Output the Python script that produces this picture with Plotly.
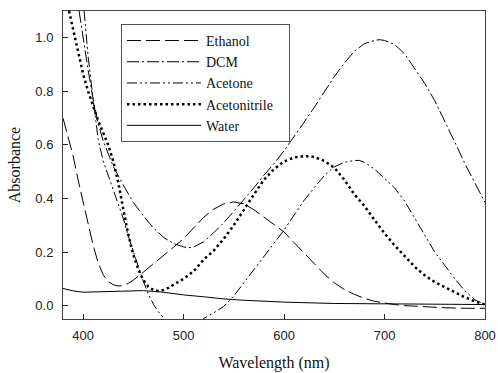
import plotly.graph_objects as go

# ---------------- data ----------------
ethanol_x = [380, 385, 390, 395, 400, 405, 410, 415, 420, 425, 430, 435, 440, 445, 450,
             460, 470, 480, 490, 500, 510, 520, 530, 540, 550, 560, 570, 580, 590, 600,
             610, 620, 630, 640, 650, 660, 670, 680, 690, 700, 710, 720, 740, 760, 780, 800]
ethanol_y = [0.70, 0.635, 0.56, 0.47, 0.385, 0.30, 0.225, 0.16, 0.115, 0.09, 0.078, 0.073, 0.075, 0.083, 0.095,
             0.125, 0.155, 0.187, 0.218, 0.25, 0.29, 0.33, 0.36, 0.38, 0.387, 0.38, 0.358, 0.33, 0.305, 0.275,
             0.235, 0.195, 0.155, 0.118, 0.085, 0.06, 0.042, 0.027, 0.016, 0.009, 0.004, 0.0, -0.005, -0.008, -0.01, -0.01]

dcm_x = [396, 400, 405, 410, 415, 420, 425, 430, 440, 450, 460, 470, 480, 490, 500, 505, 510,
         520, 530, 540, 550, 560, 570, 580, 590, 600, 610, 620, 630, 640, 650, 660, 670, 680,
         690, 695, 700, 710, 720, 730, 740, 750, 760, 770, 780, 790, 800]
dcm_y = [1.10, 1.00, 0.88, 0.77, 0.68, 0.615, 0.565, 0.52, 0.45, 0.385, 0.335, 0.29, 0.255, 0.232, 0.219, 0.216, 0.219,
         0.238, 0.272, 0.31, 0.352, 0.395, 0.44, 0.487, 0.53, 0.578, 0.63, 0.685, 0.74, 0.80, 0.855, 0.905, 0.95, 0.978,
         0.99, 0.993, 0.99, 0.975, 0.94, 0.885, 0.83, 0.765, 0.69, 0.61, 0.53, 0.455, 0.385]

acetone_x = [401, 405, 410, 415, 420, 425, 430, 435, 440, 445, 450, 455, 460, 465, 470, 475, 480, 485,
             None,
             516, 520, 530, 540, 550, 560, 570, 580, 590, 600, 610, 620, 630, 640, 650, 660, 670, 675,
             680, 690, 700, 710, 720, 730, 740, 750, 760, 770, 780, 790, 800]
acetone_y = [1.10, 0.93, 0.77, 0.62, 0.54, 0.485, 0.435, 0.38, 0.325, 0.26, 0.2, 0.145, 0.09, 0.043, 0.005, -0.023, -0.045, -0.065,
             None,
             -0.065, -0.048, -0.027, -0.003, 0.036, 0.085, 0.132, 0.18, 0.23, 0.282, 0.338, 0.393, 0.44, 0.485, 0.518, 0.535, 0.542, 0.542,
             0.535, 0.51, 0.475, 0.44, 0.39, 0.325, 0.26, 0.2, 0.15, 0.1, 0.055, 0.022, 0.003]

acetonitrile_x = [386, 390, 395, 400, 405, 410, 415, 420, 425, 430, 435, 440, 445, 450, 455, 460, 465, 470, 475,
                  480, 485, 490, 500, 510, 520, 530, 540, 550, 560, 570, 580, 590, 600, 610, 620, 625, 630,
                  640, 650, 660, 670, 680, 690, 700, 710, 720, 730, 740, 750, 760, 770, 780, 790, 800]
acetonitrile_y = [1.10, 1.03, 0.945, 0.865, 0.80, 0.745, 0.69, 0.645, 0.60, 0.54, 0.46, 0.36, 0.265, 0.19, 0.135, 0.095, 0.07, 0.058, 0.055,
                  0.058, 0.066, 0.078, 0.10, 0.128, 0.172, 0.205, 0.25, 0.30, 0.36, 0.415, 0.47, 0.51, 0.538, 0.553, 0.558, 0.558, 0.555,
                  0.54, 0.515, 0.47, 0.415, 0.372, 0.32, 0.27, 0.225, 0.185, 0.145, 0.113, 0.088, 0.069, 0.05, 0.031, 0.016, 0.004]

water_x = [380, 390, 400, 420, 440, 460, 480, 500, 520, 540, 560, 600, 650, 700, 750, 800]
water_y = [0.064, 0.055, 0.050, 0.052, 0.056, 0.056, 0.050, 0.040, 0.033, 0.025, 0.020, 0.013, 0.008, 0.006, 0.005, 0.004]

x_ticks = [400, 500, 600, 700, 800]
y_ticks = [0.0, 0.2, 0.4, 0.6, 0.8, 1.0]
y_tick_labels = ["0.0", "0.2", "0.4", "0.6", "0.8", "1.0"]

SERIF = "Liberation Serif"
SANS = "Liberation Sans"
NBSP = "\u00a0"

# ---------------- figure ----------------
fig = go.Figure()
fig.add_trace(go.Scatter(x=ethanol_x, y=ethanol_y, mode="lines", name="Ethanol",
                         line=dict(color="black", width=1, dash="14px,5px")))
fig.add_trace(go.Scatter(x=dcm_x, y=dcm_y, mode="lines", name="DCM",
                         line=dict(color="black", width=1, dash="12px,3px,2px,3px")))
fig.add_trace(go.Scatter(x=acetone_x, y=acetone_y, mode="lines", name="Acetone", connectgaps=False,
                         line=dict(color="black", width=1, dash="10px,3px,2px,3px,2px,3px")))
fig.add_trace(go.Scatter(x=acetonitrile_x, y=acetonitrile_y, mode="lines", name="Acetonitrile" + NBSP * 3,
                         line=dict(color="black", width=2.5, dash="2.5px,3px")))
fig.add_trace(go.Scatter(x=water_x, y=water_y, mode="lines", name="Water",
                         line=dict(color="black", width=1)))

axis_common = dict(showline=True, mirror=True, linecolor="#444", linewidth=1,
                   ticks="inside", ticklen=5, tickwidth=1, tickcolor="#222",
                   showgrid=False, zeroline=False, automargin=False,
                   tickfont=dict(family=SANS, size=13, color="#222"))

fig.update_layout(
    width=498, height=373,
    margin=dict(l=63, r=13, t=11, b=54),
    paper_bgcolor="white", plot_bgcolor="white",
    showlegend=True,
    legend=dict(x=0.1374, y=0.958, xanchor="left", yanchor="top",
                bgcolor="white", bordercolor="#555", borderwidth=1,
                itemwidth=74,
                font=dict(family=SERIF, size=14, color="#111")),
    xaxis=dict(range=[380, 800], tickvals=x_ticks, ticklabelstandoff=4,
               title=dict(text="Wavelength (nm)", standoff=15,
                          font=dict(family=SERIF, size=16, color="#111")),
               **axis_common),
    yaxis=dict(range=[-0.05, 1.1], tickvals=y_ticks, ticktext=y_tick_labels, ticklabelstandoff=6,
               title=dict(text="Absorbance", standoff=10,
                          font=dict(family=SERIF, size=16, color="#111")),
               **axis_common),
)

fig.write_html("out.html", config={"displayModeBar": False},
               post_script="document.body.style.margin='0';document.body.style.overflow='hidden';")
